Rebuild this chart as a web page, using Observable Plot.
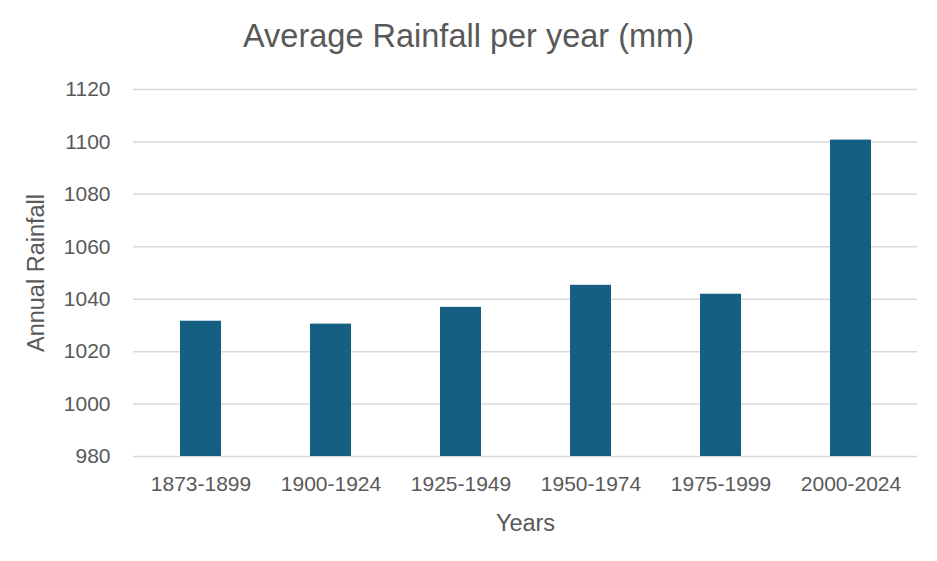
<!DOCTYPE html>
<html>
<head>
<meta charset="utf-8">
<script src="https://cdn.jsdelivr.net/npm/d3@7"></script>
<script src="https://cdn.jsdelivr.net/npm/@observablehq/plot@0.6"></script>
<style>
  html, body { margin: 0; padding: 0; background: #fff; }
  #title { height: 70px; line-height: 72px; text-align: center; font-family: "Liberation Sans", Arial, sans-serif; font-size: 32.5px; color: #595959; }
  #chart svg { display: block; }
  #chart g[aria-label="y-axis label"] text, #chart g[aria-label="x-axis label"] text { font-size: 23.5px; }
</style>
</head>
<body>
<div id="title">Average Rainfall per year (mm)</div>
<div id="chart"></div>
<script>
const periods = ["1873-1899", "1900-1924", "1925-1949", "1950-1974", "1975-1999", "2000-2024"];
const rainfall = [1031.6, 1030.5, 1036.9, 1045.3, 1041.9, 1100.7];
const yTicks = [980, 1000, 1020, 1040, 1060, 1080, 1100, 1120];
const yMin = 980, yMax = 1120;

const data = periods.map((p, i) => ({period: p, value: rainfall[i]}));

const chart = Plot.plot({
  width: 937,
  height: 491,
  marginTop: 19,
  marginBottom: 105,
  marginLeft: 133,
  marginRight: 20,
  style: {fontFamily: "'Liberation Sans', Arial, sans-serif", fontSize: "21px", color: "#595959", background: "#fff"},
  x: {domain: periods, paddingInner: 0.686, paddingOuter: 0.343, label: "Years", labelAnchor: "center", labelArrow: "none", tickSize: 0, tickPadding: 20, labelOffset: 74},
  y: {domain: [yMin, yMax], ticks: yTicks, tickFormat: d => String(d), label: "Annual Rainfall", labelAnchor: "center", labelArrow: "none", tickSize: 0, tickPadding: 23, labelOffset: 106},
  marks: [
    Plot.gridY(yTicks, {stroke: "#d9d9d9", strokeOpacity: 1, strokeWidth: 1.5}),
    Plot.barY(data, {x: "period", y1: yMin, y2: "value", fill: "#156082"})
  ]
});
document.getElementById("chart").appendChild(chart);
</script>
</body>
</html>
